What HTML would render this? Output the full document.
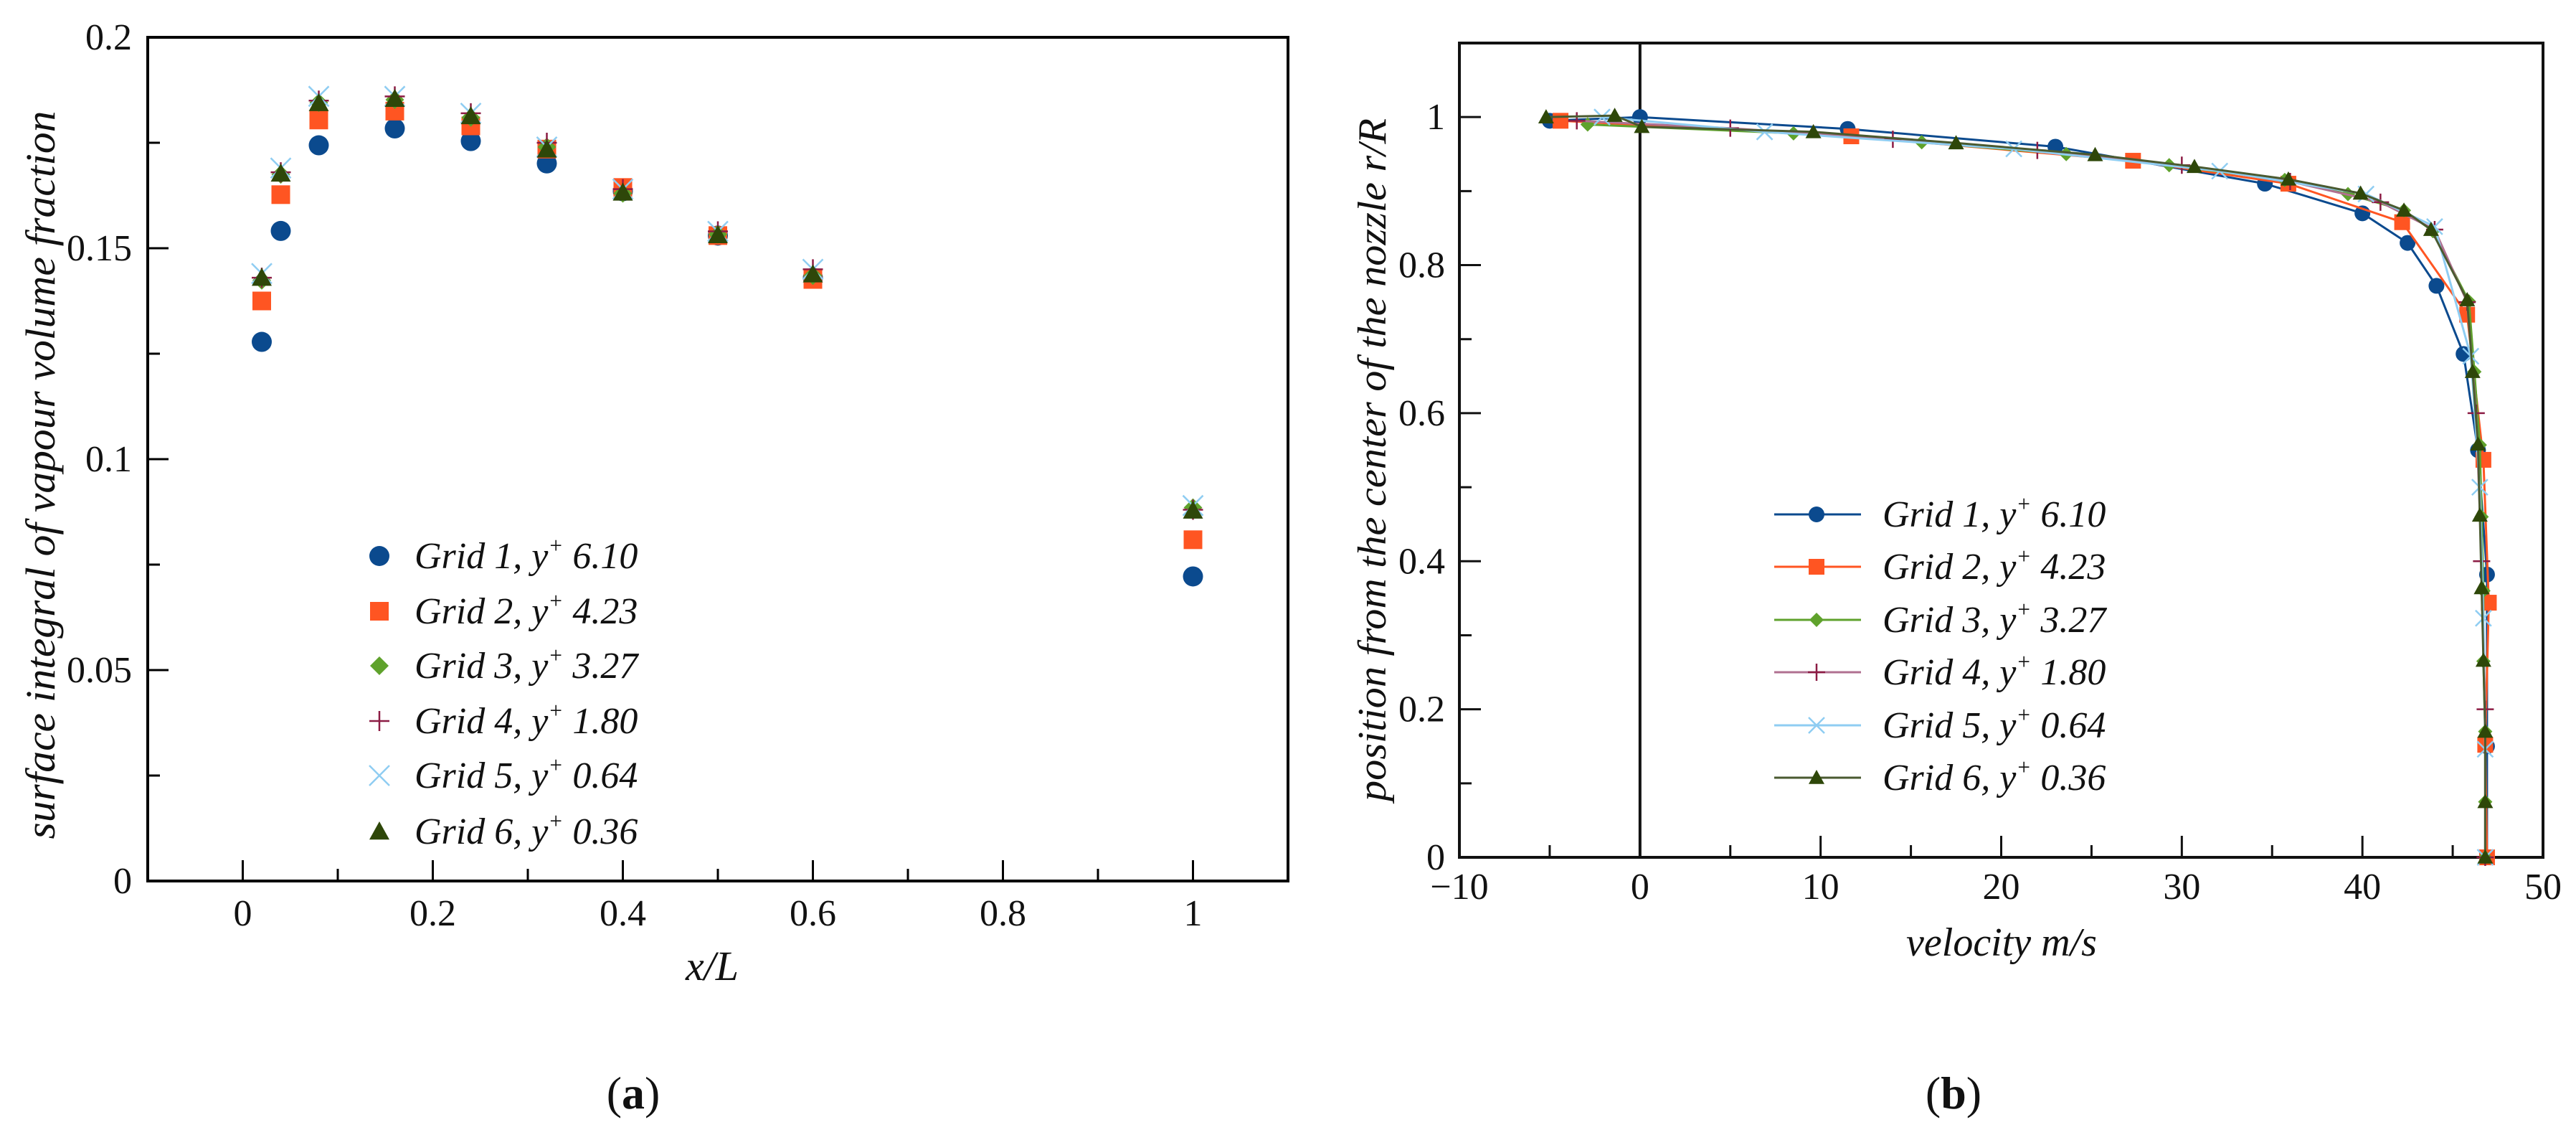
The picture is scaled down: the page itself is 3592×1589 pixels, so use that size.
<!DOCTYPE html>
<html><head><meta charset="utf-8"><style>
html,body{margin:0;padding:0;background:#fff;}
svg{display:block;font-family:"Liberation Serif","DejaVu Serif",serif;}
svg text{font-family:"Liberation Serif","DejaVu Serif",serif !important;fill:#111;}
</style></head><body>
<svg id="fig" width="3592" height="1589" viewBox="0 0 3592 1589" xmlns="http://www.w3.org/2000/svg" font-family="Liberation Serif, DejaVu Serif, serif">
<g id="panelA"></g>
<g id="panelB"></g>
<text x="883" y="1545" font-size="64" text-anchor="middle" font-family="Liberation Serif, serif">(<tspan font-weight="bold">a</tspan>)</text>
<text x="2724" y="1545" font-size="64" text-anchor="middle" font-family="Liberation Serif, serif">(<tspan font-weight="bold">b</tspan>)</text>
</svg>
<script>
// ---------- Panel A data ----------
const aX = [0.02, 0.04, 0.08, 0.16, 0.24, 0.32, 0.4, 0.5, 0.6, 1.0];
const aGrid1 = [0.1278, 0.1541, 0.1744, 0.1784, 0.1754, 0.1701, 0.1635, 0.1530, 0.1430, 0.0722];
const aGrid2 = [0.1375, 0.1627, 0.1804, 0.1825, 0.1790, 0.1735, 0.1644, 0.1530, 0.1426, 0.0809];
const aGrid3 = [0.1424, 0.1675, 0.1845, 0.1852, 0.1810, 0.1740, 0.1630, 0.1533, 0.1435, 0.0885];
const aGrid4 = [0.1430, 0.1680, 0.1850, 0.1860, 0.1820, 0.1750, 0.1640, 0.1540, 0.1450, 0.0880];
const aGrid5 = [0.1440, 0.1690, 0.1860, 0.1860, 0.1820, 0.1740, 0.1640, 0.1540, 0.1450, 0.0890];
const aGrid6 = [0.1430, 0.1677, 0.1844, 0.1854, 0.1813, 0.1734, 0.1632, 0.1531, 0.1438, 0.0878];
const aXTicks = [0, 0.2, 0.4, 0.6, 0.8, 1];
const aXTickLabels = ["0", "0.2", "0.4", "0.6", "0.8", "1"];
const aYTicks = [0, 0.05, 0.1, 0.15, 0.2];
const aYTickLabels = ["0", "0.05", "0.1", "0.15", "0.2"];

// ---------- Panel B data ----------
const bGrid1V = [-5, 0, 11.5, 23, 34.6, 40, 42.5, 44.1, 45.6, 46.4, 46.9, 46.9, 46.9];
const bGrid1R = [0.995, 1.0, 0.984, 0.96, 0.91, 0.87, 0.83, 0.772, 0.68, 0.55, 0.382, 0.15, 0];
const bGrid2V = [-4.4, 11.7, 27.3, 35.9, 42.2, 45.8, 46.7, 47.0, 46.8, 46.9];
const bGrid2R = [0.995, 0.974, 0.941, 0.91, 0.858, 0.733, 0.537, 0.344, 0.152, 0];
const bGrid3V = [-2.9, 8.5, 15.6, 23.6, 29.3, 35.7, 39.2, 42.3, 43.9, 45.9, 46.2, 46.5, 46.6, 46.7, 46.7, 46.8, 46.8, 46.8];
const bGrid3R = [0.99, 0.978, 0.966, 0.95, 0.935, 0.915, 0.896, 0.874, 0.846, 0.751, 0.656, 0.557, 0.46, 0.36, 0.265, 0.17, 0.075, 0];
const bGrid4V = [-3.5, 5, 14, 22, 30, 36, 41, 44, 45.8, 46.3, 46.6, 46.8, 46.8];
const bGrid4R = [0.995, 0.985, 0.97, 0.955, 0.935, 0.913, 0.885, 0.848, 0.75, 0.6, 0.4, 0.2, 0];
const bGrid5V = [-2.1, 6.9, 20.7, 32.1, 40.2, 44.0, 46.0, 46.5, 46.7, 46.8, 46.8];
const bGrid5R = [1.0, 0.98, 0.957, 0.927, 0.896, 0.852, 0.677, 0.5, 0.323, 0.146, 0];
const bGrid6V = [-5.2, -1.4, 0.1, 9.6, 17.5, 25.2, 30.7, 35.9, 39.9, 42.3, 43.8, 45.8, 46.1, 46.4, 46.5, 46.6, 46.7, 46.8, 46.8, 46.8];
const bGrid6R = [1.0, 1.002, 0.987, 0.98, 0.965, 0.949, 0.933, 0.916, 0.897, 0.874, 0.848, 0.753, 0.656, 0.558, 0.462, 0.364, 0.266, 0.17, 0.075, 0];
const bXTicks = [-10, 0, 10, 20, 30, 40, 50];
const bXTickLabels = ["\u221210", "0", "10", "20", "30", "40", "50"];
const bYTicks = [0, 0.2, 0.4, 0.6, 0.8, 1];
const bYTickLabels = ["0", "0.2", "0.4", "0.6", "0.8", "1"];

const NS = "http://www.w3.org/2000/svg";
const FONT = "Liberation Serif, DejaVu Serif, serif";
function mk(parent, tag, attrs) {
  const e = document.createElementNS(NS, tag);
  for (const k in attrs) e.setAttribute(k, attrs[k]);
  if (tag === "text") e.setAttribute("font-family", FONT);
  parent.appendChild(e);
  return e;
}

const COLORS = {g1:"#0b4a8e", g2:"#ff5522", g3:"#5fa22c", g4:"#8c1c44", g5:"#8fcdf2", g6:"#2e4709"};
const G4LINE = "#b07090";

function marker(g, type, x, y, s, color) {
  let e;
  if (type === "circle") {
    e = mk(g, "circle", {cx:x, cy:y, r:s, fill:color});
  } else if (type === "square") {
    e = mk(g, "rect", {x:x-s, y:y-s, width:2*s, height:2*s, fill:color});
  } else if (type === "diamond") {
    e = mk(g, "polygon", {points:`${x},${y-s} ${x+s},${y} ${x},${y+s} ${x-s},${y}`, fill:color});
  } else if (type === "plus") {
    e = mk(g, "path", {d:`M${x-s},${y}H${x+s}M${x},${y-s}V${y+s}`, stroke:color, "stroke-width":2.5, fill:"none"});
  } else if (type === "cross") {
    e = mk(g, "path", {d:`M${x-s},${y-s}L${x+s},${y+s}M${x+s},${y-s}L${x-s},${y+s}`, stroke:color, "stroke-width":2.5, fill:"none"});
  } else {
    e = mk(g, "polygon", {points:`${x},${y-s} ${x+s},${y+s*0.8} ${x-s},${y+s*0.8}`, fill:color});
  }
  return e;
}

function legendText(g, x, y, grid, val, fs) {
  const t = mk(g, "text", {x:x, y:y, "font-size":fs, "font-style":"italic"});
  const a = document.createElementNS(NS, "tspan"); a.textContent = "Grid " + grid + ", y"; t.appendChild(a);
  const b = document.createElementNS(NS, "tspan"); b.setAttribute("dy", -fs*0.4); b.setAttribute("font-size", fs*0.6); b.textContent = "+"; t.appendChild(b);
  const c = document.createElementNS(NS, "tspan"); c.setAttribute("dy", fs*0.4); c.textContent = " " + val; t.appendChild(c);
  return t;
}

// ================= Panel A =================
(function(){
  const g = document.getElementById("panelA");
  const L=206, R=1796, T=52, B=1228;
  const xMin=-0.1, xMax=1.1, yMin=0, yMax=0.2;
  const sx = v => L + (v - xMin) / (xMax - xMin) * (R - L);
  const sy = v => B - (v - yMin) / (yMax - yMin) * (B - T);

  const frame = mk(g, "rect", {x:L, y:T, width:R-L, height:B-T, fill:"none", stroke:"#000", "stroke-width":4});
  
  

  for (let k = 0; k <= 10; k++) {
    const v = k*0.1;
    const major = k % 2 === 0;
    const tk = mk(g, "line", {x1:sx(v), x2:sx(v), y1:B, y2:B-(major?29:17), stroke:"#000", "stroke-width":3});
    
    
  }
  aXTicks.forEach((v,i) => {
    const t = mk(g, "text", {x:sx(v), y:B+62, "font-size":52, "text-anchor":"middle"});
    t.textContent = aXTickLabels[i];
    
    
  });
  for (let k = 0; k <= 8; k++) {
    const v = k*0.025;
    const major = k % 2 === 0;
    const tk = mk(g, "line", {x1:L, x2:L+(major?29:17), y1:sy(v), y2:sy(v), stroke:"#000", "stroke-width":3});
    
    
  }
  aYTicks.forEach((v,i) => {
    const t = mk(g, "text", {x:L-22, y:sy(v)+17, "font-size":52, "text-anchor":"end"});
    t.textContent = aYTickLabels[i];
    
    
  });
  const xt = mk(g, "text", {x:993, y:1366, "font-size":58, "font-style":"italic", "text-anchor":"middle"});
  xt.textContent = "x/L";
  
  
  const yt = mk(g, "text", {x:0, y:0, "font-size":58, "font-style":"italic", "text-anchor":"middle", transform:"translate(76,662) rotate(-90)", textLength:1015, lengthAdjust:"spacingAndGlyphs"});
  yt.textContent = "surface integral of vapour volume fraction";
  
  

  const series = [
    {d:aGrid1, m:"circle", c:COLORS.g1, s:14, n:"1", v:"6.10"},
    {d:aGrid2, m:"square", c:COLORS.g2, s:13, n:"2", v:"4.23"},
    {d:aGrid3, m:"diamond", c:COLORS.g3, s:13, n:"3", v:"3.27"},
    {d:aGrid4, m:"plus", c:COLORS.g4, s:14, n:"4", v:"1.80"},
    {d:aGrid5, m:"cross", c:COLORS.g5, s:14, n:"5", v:"0.64"},
    {d:aGrid6, m:"triangle", c:COLORS.g6, s:14, n:"6", v:"0.36"}
  ];
  const legY = [775, 852, 928, 1005, 1081, 1159];
  series.forEach((se, si) => {
    const sg = mk(g, "g", {});
    
    
    se.d.forEach((v, i) => {
      const p = marker(sg, se.m, sx(aX[i]), sy(v), se.s, se.c);
      
      
    });
    const lg = mk(g, "g", {});
    
    
    marker(lg, se.m, 529, legY[si], se.s, se.c);
    legendText(lg, 578, legY[si]+17, se.n, se.v, 52);
  });
})();

// ================= Panel B =================
(function(){
  const g = document.getElementById("panelB");
  const L=2035, R=3546, T=60, B=1195;
  const xMin=-10, xMax=50, yMin=0, yMax=1.1;
  const sx = v => L + (v - xMin) / (xMax - xMin) * (R - L);
  const sy = v => B - (v - yMin) / (yMax - yMin) * (B - T);

  const frame = mk(g, "rect", {x:L, y:T, width:R-L, height:B-T, fill:"none", stroke:"#111", "stroke-width":4});
  
  
  const zl = mk(g, "line", {x1:sx(0), x2:sx(0), y1:T, y2:B, stroke:"#111", "stroke-width":4});
  
  

  for (let v = -10; v <= 50; v += 5) {
    const major = v % 10 === 0;
    const tk = mk(g, "line", {x1:sx(v), x2:sx(v), y1:B, y2:B-(major?30:17), stroke:"#111", "stroke-width":3});
    
    
  }
  bXTicks.forEach((v,i) => {
    const t = mk(g, "text", {x:sx(v), y:B+58, "font-size":52, "text-anchor":"middle"});
    t.textContent = bXTickLabels[i];
    
    
  });
  for (let k = 0; k <= 10; k++) {
    const v = k*0.1;
    const major = k % 2 === 0;
    const tk = mk(g, "line", {x1:L, x2:L+(major?30:17), y1:sy(v), y2:sy(v), stroke:"#111", "stroke-width":3});
    
    
  }
  bYTicks.forEach((v,i) => {
    const t = mk(g, "text", {x:L-20, y:sy(v)+17, "font-size":52, "text-anchor":"end"});
    t.textContent = bYTickLabels[i];
    
    
  });
  const xt = mk(g, "text", {x:2791, y:1332, "font-size":56, "font-style":"italic", "text-anchor":"middle"});
  xt.textContent = "velocity m/s";
  
  
  const yt = mk(g, "text", {x:0, y:0, "font-size":56, "font-style":"italic", "text-anchor":"middle", transform:"translate(1932,641) rotate(-90)", textLength:952, lengthAdjust:"spacingAndGlyphs"});
  yt.textContent = "position from the center of the nozzle r/R";
  
  

  const series = [
    {v:bGrid1V, r:bGrid1R, m:"circle", c:COLORS.g1, lc:COLORS.g1, s:11, n:"1", val:"6.10"},
    {v:bGrid2V, r:bGrid2R, m:"square", c:COLORS.g2, lc:COLORS.g2, s:11, n:"2", val:"4.23"},
    {v:bGrid3V, r:bGrid3R, m:"diamond", c:COLORS.g3, lc:COLORS.g3, s:10, n:"3", val:"3.27"},
    {v:bGrid4V, r:bGrid4R, m:"plus", c:COLORS.g4, lc:G4LINE, s:12, n:"4", val:"1.80"},
    {v:bGrid5V, r:bGrid5R, m:"cross", c:COLORS.g5, lc:COLORS.g5, s:11, n:"5", val:"0.64"},
    {v:bGrid6V, r:bGrid6R, m:"triangle", c:COLORS.g6, lc:"#4a5a30", s:11, n:"6", val:"0.36"}
  ];
  const legY = [717, 790, 864, 937, 1011, 1084];
  series.forEach((se, si) => {
    const sg = mk(g, "g", {});
    
    
    const pts = se.v.map((v,i) => sx(v).toFixed(1) + "," + sy(se.r[i]).toFixed(1)).join(" ");
    const pl = mk(sg, "polyline", {points:pts, fill:"none", stroke:se.lc, "stroke-width":3, "stroke-linejoin":"round"});
    
    
    se.v.forEach((v, i) => {
      const p = marker(sg, se.m, sx(v), sy(se.r[i]), se.s, se.c);
      
      
    });
    const lg = mk(g, "g", {});
    
    
    mk(lg, "line", {x1:2474, x2:2595, y1:legY[si], y2:legY[si], stroke:se.lc, "stroke-width":3});
    marker(lg, se.m, 2533, legY[si], se.s, se.c);
    legendText(lg, 2625, legY[si]+17, se.n, se.val, 52);
  });
})();
</script>
</body></html>
